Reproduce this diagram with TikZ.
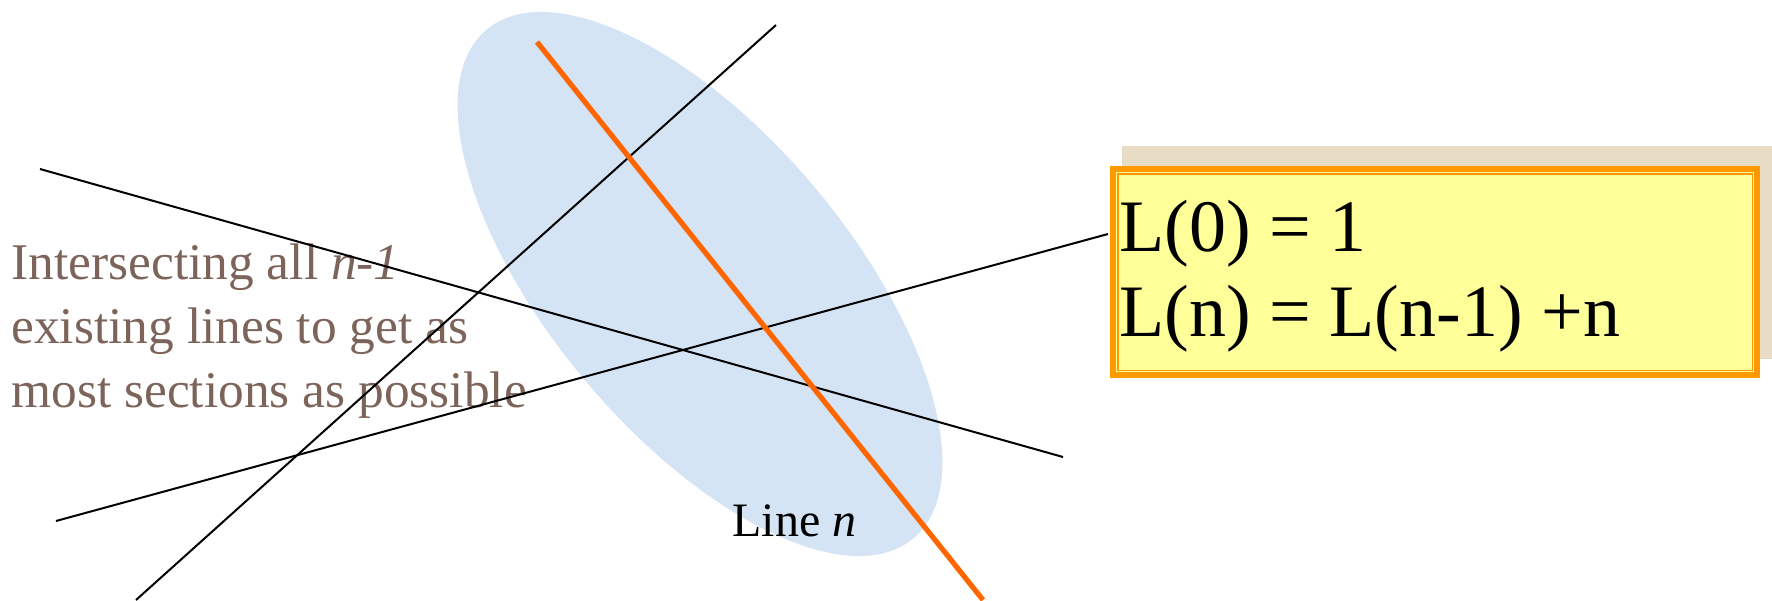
\documentclass[tikz,border=0pt]{standalone}
\usepackage{fontspec}
\setmainfont{Liberation Serif}
\definecolor{ellblue}{RGB}{213,228,245}
\definecolor{lineorange}{RGB}{255,102,0}
\definecolor{boxorange}{RGB}{255,153,0}
\definecolor{boxyellow}{RGB}{255,255,153}
\definecolor{shadowtan}{RGB}{232,220,197}
\definecolor{notebrown}{RGB}{125,100,90}
\tikzset{
  thinline/.style={draw=black, line width=1pt},
  nline/.style={draw=lineorange, line width=2.6pt},
  eqbox/.style={draw=boxorange, line width=3.2pt, fill=boxyellow, inner sep=0pt, anchor=north west},
  eqtext/.style={anchor=base west, inner sep=0pt, font=\fontsize{37}{40}\selectfont},
  notetext/.style={anchor=base west, inner sep=0pt, text=notebrown, font=\fontsize{25.7}{32}\selectfont},
  labeltext/.style={anchor=base west, inner sep=0pt, font=\fontsize{24}{28}\selectfont}
}
\begin{document}
\begin{tikzpicture}[x=0.5pt,y=-0.5pt]
\useasboundingbox (0,0) rectangle (1772,600);
% ellipse
\fill[ellblue, rotate around={-50:(700,284)}] (700,284) ellipse [x radius=166pt, y radius=75pt];
% note text
\node[notetext] (n1) at (11,279) {Intersecting all \textit{n-1}};
\node[notetext] (n2) at (11,343) {existing lines to get as};
\node[notetext] (n3) at (11,407) {most sections as possible};
\node[labeltext] (ln) at (732,536) {Line \textit{n}};
% line coordinates
\coordinate (a1) at (40,169);
\coordinate (a2) at (1063,457);
\coordinate (b1) at (56,521);
\coordinate (b2) at (1108,234);
\coordinate (c1) at (136,600);
\coordinate (c2) at (776,25);
\coordinate (o1) at (537,42);
\coordinate (o2) at (983,600);
\draw[thinline] (a1) -- (a2);
\draw[thinline] (b1) -- (b2);
\draw[thinline] (c1) -- (c2);
\draw[nline] (o1) -- (o2);
% box
\fill[shadowtan] (1122,146) rectangle (1772,359);
\node[eqbox, minimum width=322pt, minimum height=103pt] (eq) at (1110,166) {};
\draw[boxorange, line width=0.8pt] ([shift={(4pt,-4pt)}]eq.north west) rectangle ([shift={(-4pt,4pt)}]eq.south east);
\node[eqtext] (e1) at (1119,251) {L(0) = 1};
\node[eqtext] (e2) at (1119,336) {L(n) = L(n-1) +n};
\end{tikzpicture}
\end{document}
